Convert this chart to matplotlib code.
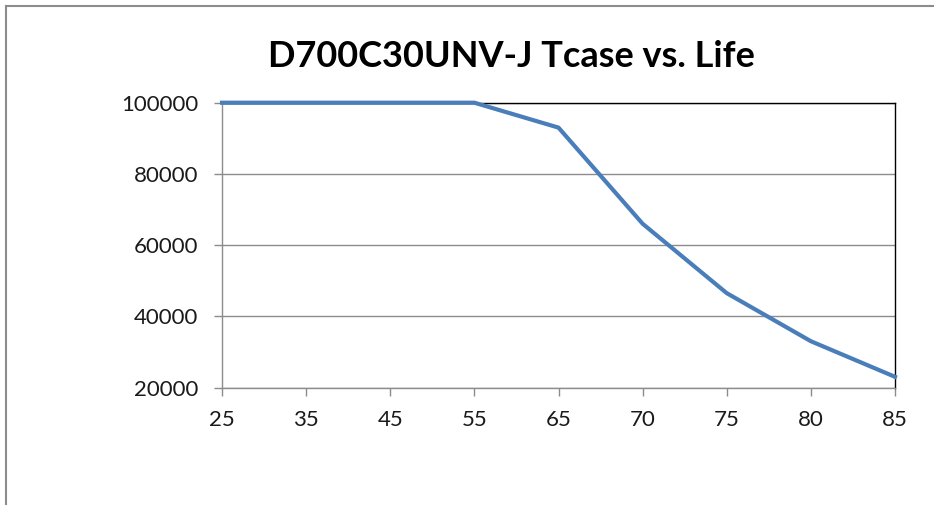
import matplotlib
matplotlib.use('Agg')
import matplotlib.pyplot as plt
from matplotlib.lines import Line2D

temps = ['25', '35', '45', '55', '65', '70', '75', '80', '85']
life = [100000, 100000, 100000, 100000, 93000, 66000, 46500, 33000, 23000]
yticks = [20000, 40000, 60000, 80000, 100000]

plt.rcParams['font.family'] = ['Lato', 'DejaVu Sans']

fig = plt.figure(figsize=(9.34, 5.05), dpi=100)
ax = fig.add_axes([222 / 934, 1 - 387.5 / 505, (895 - 222) / 934, (387.5 - 102.7) / 505])

xs = list(range(len(temps)))
ax.plot(xs, life, color='#4A7EBB', lw=3, solid_joinstyle='miter', clip_on=False, zorder=3)

ax.set_xlim(0, len(temps) - 1)
ax.set_ylim(20000, 100000)
ax.set_xticks(xs)
ax.set_xticklabels(temps)
ax.set_yticks(yticks)
ax.grid(axis='y', color='#8c8c8c', lw=1)
ax.set_axisbelow(True)

for side in ('left', 'bottom'):
    ax.spines[side].set_color('#8c8c8c')
    ax.spines[side].set_linewidth(1)
for side in ('top', 'right'):
    ax.spines[side].set_color('#000000')
    ax.spines[side].set_linewidth(1)

ax.tick_params(axis='y', length=6, width=1, color='#8c8c8c', pad=11, labelsize=16)
ax.tick_params(axis='x', length=6, width=1, color='#8c8c8c', pad=10, labelsize=16)
for lbl in ax.get_xticklabels() + ax.get_yticklabels():
    lbl.set_color('#1a1a1a')

fig.text(511 / 934, 1 - 67 / 505, 'D700C30UNV-J Tcase vs. Life',
         ha='center', va='baseline', fontsize=26, fontweight='bold')

# outer chart frame (only left and top edges visible in the crop)
fig.add_artist(Line2D([5.5 / 934, 5.5 / 934], [0, 1 - 6 / 505], color='#8c8c8c', lw=1.5))
fig.add_artist(Line2D([5.5 / 934, 1], [1 - 6 / 505, 1 - 6 / 505], color='#8c8c8c', lw=1.5))

fig.savefig('out.png', dpi=100)
